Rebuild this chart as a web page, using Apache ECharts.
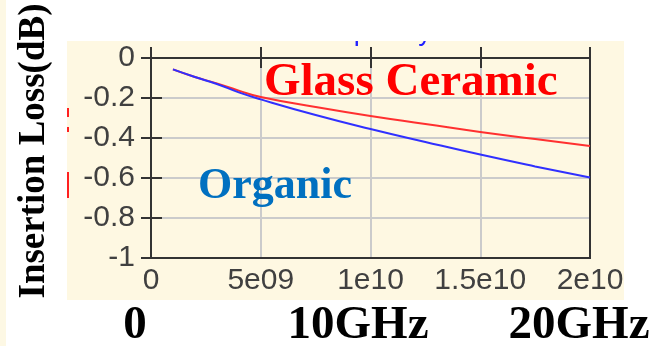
<!DOCTYPE html>
<html>
<head>
<meta charset="utf-8">
<script src="https://cdn.jsdelivr.net/npm/echarts@6/dist/echarts.min.js"></script>
<style>html,body{margin:0;padding:0;background:#fff}#c{width:671px;height:346px}</style>
</head>
<body>
<div id="c"></div>
<script>
// Frequency (Hz)
var freqs = [1e9, 2e9, 3e9, 4e9, 5e9, 7.5e9, 1e10, 1.25e10, 1.5e10, 1.75e10, 2e10];
// Insertion loss (dB)
var glassCeramic = [-0.057, -0.095, -0.127, -0.163, -0.195, -0.245, -0.29, -0.33, -0.37, -0.405, -0.44];
var organic = [-0.057, -0.095, -0.13, -0.172, -0.207, -0.285, -0.355, -0.42, -0.483, -0.542, -0.598];
var xTickLabels = ['0', '5e09', '1e10', '1.5e10', '2e10'];
var yTickLabels = ['-1', '-0.8', '-0.6', '-0.4', '-0.2', '0'];
var bottomLabels = ['0', '10GHz', '20GHz'];

function pairs(xs, ys) { return xs.map(function (x, i) { return [x, ys[i]]; }); }

var chart = echarts.init(document.getElementById('c'), null, { renderer: 'canvas' });
var axisColor = '#333333';
var tickFont = { fontFamily: 'Liberation Sans', fontSize: 30, color: '#404040' };
var serifBold = 'Liberation Serif';

chart.setOption({
  animation: false,
  backgroundColor: '#ffffff',
  grid: { left: 151, right: 81, top: 58, bottom: 88, show: true, borderColor: axisColor, borderWidth: 2, backgroundColor: 'transparent', z: 2 },
  xAxis: [{
    type: 'value', min: 0, max: 2e10, interval: 5e9, position: 'bottom',
    axisLine: { show: true, lineStyle: { color: axisColor, width: 2 } },
    axisTick: { show: true, inside: true, length: 11, lineStyle: { color: axisColor, width: 2 } },
    axisLabel: Object.assign({ margin: 8, formatter: function (v, i) { return xTickLabels[i]; } }, tickFont),
    splitLine: { show: true, lineStyle: { color: '#cbcbcb', width: 2 } }
  }, {
    type: 'value', min: 0, max: 2e10, interval: 5e9, position: 'bottom',
    axisLine: { show: false },
    axisTick: { show: true, inside: false, length: 10, lineStyle: { color: axisColor, width: 2 } },
    axisLabel: { show: false },
    splitLine: { show: false }
  }],
  yAxis: [{
    type: 'value', min: -1, max: 0, interval: 0.2, position: 'left',
    axisLine: { show: true, lineStyle: { color: axisColor, width: 2 } },
    axisTick: { show: true, inside: true, length: 11, lineStyle: { color: axisColor, width: 2 } },
    axisLabel: Object.assign({ margin: 16, formatter: function (v, i) { return yTickLabels[i]; } }, tickFont),
    splitLine: { show: true, lineStyle: { color: '#cbcbcb', width: 2 } }
  }, {
    type: 'value', min: -1, max: 0, interval: 0.2, position: 'left',
    axisLine: { show: false },
    axisTick: { show: true, inside: false, length: 10, lineStyle: { color: axisColor, width: 2 } },
    axisLabel: { show: false },
    splitLine: { show: false }
  }],
  series: [{
    name: 'Glass Ceramic', type: 'line', xAxisIndex: 0, yAxisIndex: 0,
    data: pairs(freqs, glassCeramic), showSymbol: false, smooth: true,
    lineStyle: { color: '#ff3030', width: 2 }, z: 5
  }, {
    name: 'Organic', type: 'line', xAxisIndex: 0, yAxisIndex: 0,
    data: pairs(freqs, organic), showSymbol: false, smooth: true,
    lineStyle: { color: '#3030ff', width: 2 }, z: 6
  }],
  graphic: [
    { type: 'rect', shape: { x: 0, y: 0, width: 6, height: 346 }, style: { fill: '#fdf8e4' }, z: -10 },
    { type: 'rect', shape: { x: 67, y: 41, width: 557, height: 259 }, style: { fill: '#fef8e2' }, z: -10 },
    { type: 'text', x: 368, y: 46, style: { text: 'Frequency', font: '27px "Liberation Sans"', fill: '#2020ff', textAlign: 'center', textVerticalAlign: 'bottom' }, z: 1 },
    { type: 'rect', shape: { x: 250, y: 0, width: 240, height: 41 }, style: { fill: '#ffffff' }, z: 20 },
    { type: 'rect', shape: { x: 67, y: 108, width: 2, height: 9 }, style: { fill: '#ff2020' }, z: 1 },
    { type: 'rect', shape: { x: 67, y: 127, width: 2, height: 5 }, style: { fill: '#ff2020' }, z: 1 },
    { type: 'rect', shape: { x: 67, y: 172, width: 2, height: 26 }, style: { fill: '#ff2020' }, z: 1 },
    { type: 'text', x: 34, y: 151, rotation: Math.PI / 2, style: { text: 'Insertion Loss(dB)', font: 'bold 37px "' + serifBold + '"', fill: '#000', textAlign: 'center', textVerticalAlign: 'middle' }, z: 10 },
    { type: 'text', x: 264, y: 83, style: { text: 'Glass Ceramic', font: 'bold 47px "' + serifBold + '"', fill: '#ff0000', textAlign: 'left', textVerticalAlign: 'middle' }, z: 10 },
    { type: 'text', x: 198, y: 187, style: { text: 'Organic', font: 'bold 44px "' + serifBold + '"', fill: '#0070c0', textAlign: 'left', textVerticalAlign: 'middle' }, z: 10 },
    { type: 'text', x: 135, y: 326, style: { text: bottomLabels[0], font: 'bold 47px "' + serifBold + '"', fill: '#000', textAlign: 'center', textVerticalAlign: 'middle' }, z: 10 },
    { type: 'text', x: 358, y: 326, style: { text: bottomLabels[1], font: 'bold 47px "' + serifBold + '"', fill: '#000', textAlign: 'center', textVerticalAlign: 'middle' }, z: 10 },
    { type: 'text', x: 579, y: 326, style: { text: bottomLabels[2], font: 'bold 47px "' + serifBold + '"', fill: '#000', textAlign: 'center', textVerticalAlign: 'middle' }, z: 10 }
  ]
});
</script>
</body>
</html>
